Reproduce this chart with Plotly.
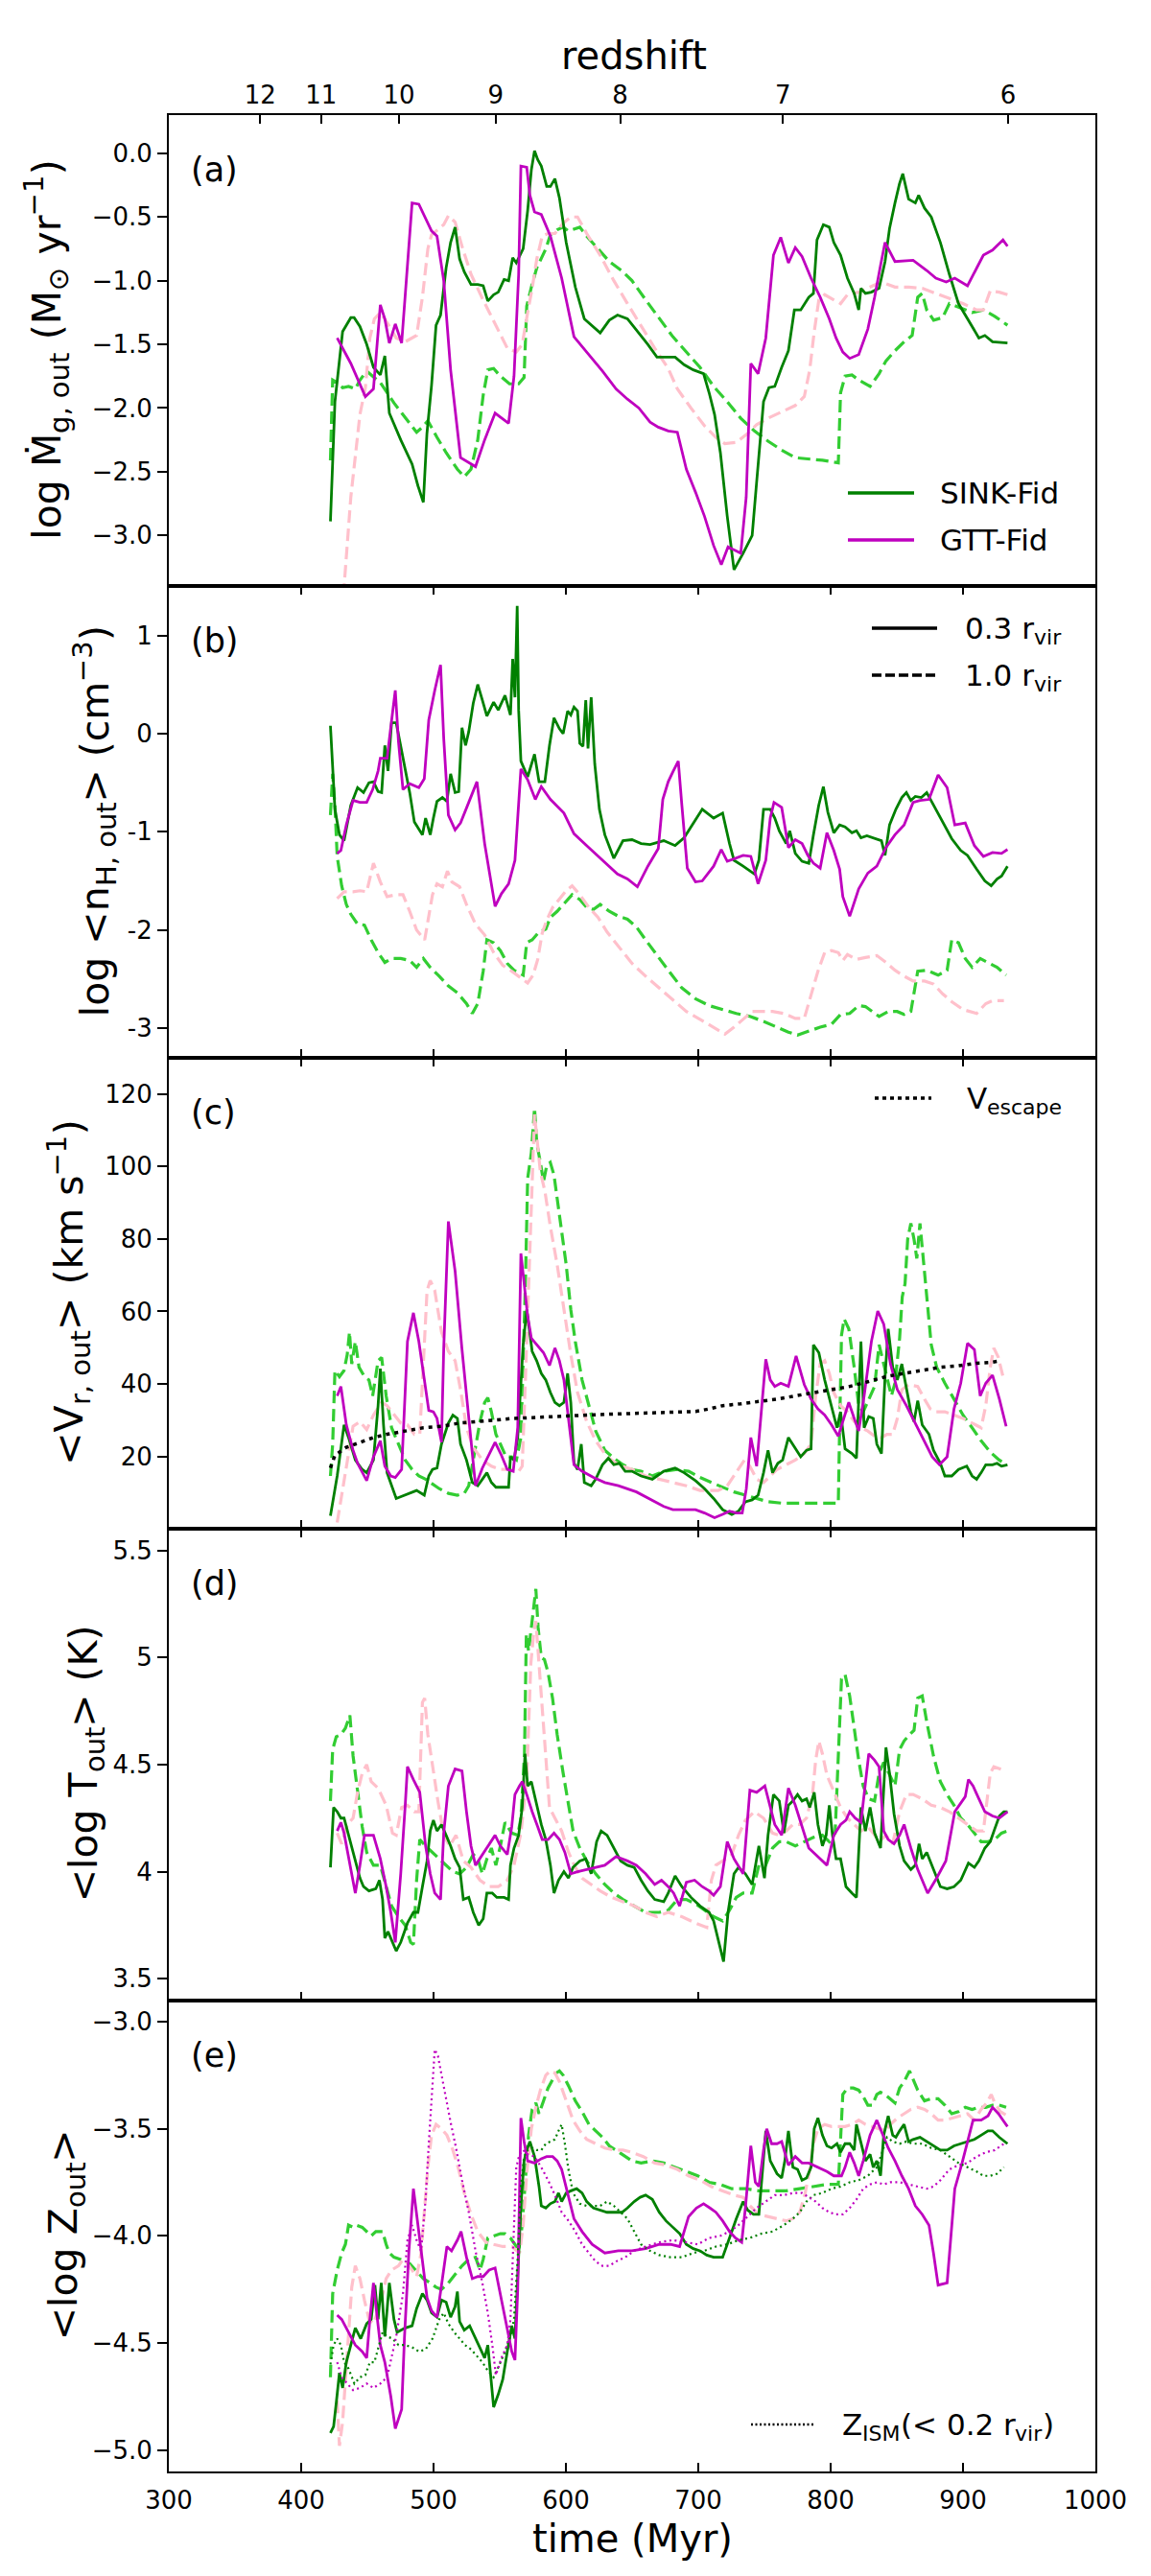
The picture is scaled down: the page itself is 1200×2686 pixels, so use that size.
import plotly.graph_objects as go
from plotly.subplots import make_subplots

# ---- data: (time [Myr], value) pairs ----
# (a) log outflow rate
a_sink = [(422.1,-2.89),(425.5,-1.95),(431.3,-1.40),(437.5,-1.29),(440.0,-1.29),(444.4,-1.36),(449.5,-1.50),(454.6,-1.68),(459.8,-1.74),(463.2,-1.59),(466.6,-2.04),(475.2,-2.25),(483.8,-2.44),(488.2,-2.61),(492.3,-2.74),(495.0,-2.20),(498.5,-1.82),(501.9,-1.35),(505.3,-1.27),(509.5,-0.90),(512.9,-0.70),(516.3,-0.58),(519.7,-0.83),(523.2,-0.93),(528.3,-1.03),(533.4,-1.03),(537.5,-1.04),(541.0,-1.16),(545.4,-1.11),(548.9,-1.09),(553.3,-0.99),(556.7,-1.00),(559.8,-0.82),(562.5,-0.86),(567.7,-0.75),(571.1,-0.45),(573.9,-0.13),(576.3,0.02),(578.7,-0.05),(581.4,-0.10),(585.5,-0.26),(588.3,-0.26),(591.7,-0.20),(595.1,-0.35),(600.2,-0.70),(607.1,-1.05),(613.9,-1.30),(617.4,-1.33),(620.8,-1.36),(625.9,-1.41),(632.8,-1.31),(639.0,-1.27),(646.5,-1.30),(655.1,-1.41),(661.9,-1.50),(668.8,-1.60),(682.5,-1.60),(689.3,-1.66),(696.2,-1.70),(704.0,-1.73),(708.2,-1.88),(712.3,-2.05),(716.7,-2.35),(721.9,-2.85),(727.0,-3.27),(733.9,-3.14),(740.7,-3.00),(744.1,-2.58),(749.3,-1.95),(753.4,-1.84),(757.8,-1.83),(763.0,-1.68),(768.1,-1.55),(772.6,-1.23),(777.4,-1.23),(783.5,-1.13),(787.0,-1.10),(789.7,-0.68),(794.5,-0.56),(799.0,-0.58),(802.4,-0.70),(807.5,-0.80),(812.7,-0.98),(817.8,-1.10),(821.2,-1.23),(822.9,-1.06),(826.3,-1.10),(830.8,-1.09),(836.6,-1.06),(841.1,-0.85),(844.5,-0.59),(848.6,-0.39),(852.0,-0.24),(854.5,-0.16),(858.9,-0.36),(864.0,-0.39),(866.5,-0.33),(870.9,-0.43),(876.0,-0.50),(882.9,-0.70),(889.7,-0.95),(896.6,-1.18),(905.1,-1.33),(912.0,-1.45),(916.5,-1.43),(922.3,-1.48),(933.6,-1.49)]
a_gtt = [(427.2,-1.45),(437.5,-1.65),(448.5,-1.91),(454.6,-1.85),(459.8,-1.19),(463.2,-1.30),(466.6,-1.49),(471.1,-1.34),(475.9,-1.49),(479.6,-1.00),(483.8,-0.39),(488.9,-0.40),(494.0,-0.51),(498.5,-0.61),(502.6,-0.65),(507.7,-1.00),(512.9,-1.70),(520.4,-2.39),(531.7,-2.46),(538.6,-2.25),(546.5,-2.04),(556.7,-2.12),(560.8,-1.75),(564.3,-0.95),(566.0,-0.10),(570.4,-0.11),(572.8,-0.33),(576.3,-0.46),(581.4,-0.48),(588.3,-0.65),(596.8,-0.98),(606.1,-1.44),(615.7,-1.56),(627.6,-1.71),(637.9,-1.85),(646.5,-1.93),(655.1,-2.00),(663.6,-2.11),(669.8,-2.15),(677.3,-2.18),(684.2,-2.19),(691.0,-2.48),(697.9,-2.66),(704.7,-2.85),(711.6,-3.08),(717.4,-3.23),(722.5,-3.09),(732.1,-3.14),(736.2,-2.70),(739.7,-1.65),(745.2,-1.73),(751.0,-1.45),(756.8,-0.80),(762.3,-0.66),(768.1,-0.86),(773.3,-0.74),(778.4,-0.81),(785.2,-0.98),(792.1,-1.13),(799.0,-1.30),(804.1,-1.45),(809.2,-1.56),(814.4,-1.61),(821.2,-1.58),(828.1,-1.38),(833.2,-1.13),(837.7,-0.88),(841.1,-0.70),(848.6,-0.85),(862.3,-0.84),(872.6,-0.92),(879.5,-0.98),(887.3,-1.01),(893.8,-0.98),(903.4,-1.04),(908.6,-0.94),(915.4,-0.80),(922.3,-0.76),(930.2,-0.68),(933.6,-0.73)]
a_sink_out = [(422.1,-2.41),(423.8,-1.78),(427.2,-1.80),(431.3,-1.84),(435.8,-1.83),(440.9,-1.85),(444.4,-1.78),(449.5,-1.71),(452.9,-1.74),(459.8,-1.80),(470.1,-1.96),(480.3,-2.10),(487.2,-2.19),(491.6,-2.15),(495.7,-2.10),(502.6,-2.23),(509.5,-2.35),(518.0,-2.48),(523.2,-2.54),(528.3,-2.48),(533.4,-2.25),(537.5,-1.90),(541.0,-1.70),(545.4,-1.69),(550.5,-1.75),(557.4,-1.81),(564.3,-1.81),(568.4,-1.76),(570.4,-1.20),(573.9,-1.05),(578.0,-0.90),(584.8,-0.75),(588.3,-0.64),(593.4,-0.60),(597.9,-0.58),(602.0,-0.61),(607.1,-0.59),(610.5,-0.58),(615.7,-0.65),(624.2,-0.75),(632.8,-0.85),(643.1,-0.93),(649.9,-1.00),(660.2,-1.15),(670.5,-1.30),(680.8,-1.44),(691.0,-1.56),(701.3,-1.68),(711.6,-1.83),(721.9,-1.95),(732.1,-2.08),(742.4,-2.18),(752.7,-2.26),(763.0,-2.33),(773.3,-2.39),(783.5,-2.40),(793.8,-2.41),(805.8,-2.43),(807.5,-1.88),(810.9,-1.75),(816.1,-1.74),(821.2,-1.78),(829.8,-1.83),(836.6,-1.73),(841.8,-1.63),(848.6,-1.55),(855.5,-1.48),(861.6,-1.43),(865.8,-1.13),(869.2,-1.10),(872.6,-1.23),(877.8,-1.31),(884.6,-1.29),(889.7,-1.18),(896.6,-1.21),(906.9,-1.25),(915.4,-1.23),(924.0,-1.28),(930.9,-1.33),(933.6,-1.35)]
a_gtt_out = [(428.8,-3.90),(437.5,-2.70),(444.4,-2.05),(448.5,-1.84),(451.9,-1.45),(455.3,-1.30),(459.8,-1.25),(465.0,-1.33),(471.8,-1.45),(478.6,-1.48),(487.2,-1.43),(491.6,-1.13),(495.7,-0.75),(498.5,-0.64),(503.3,-0.60),(507.7,-0.56),(511.2,-0.49),(516.3,-0.54),(521.5,-0.73),(528.3,-0.95),(536.9,-1.14),(547.1,-1.35),(555.7,-1.53),(562.5,-1.56),(567.0,-1.50),(571.1,-1.25),(574.5,-1.06),(578.0,-0.83),(582.1,-0.65),(586.5,-0.63),(591.7,-0.63),(597.9,-0.55),(603.7,-0.50),(608.8,-0.50),(615.7,-0.63),(625.9,-0.80),(636.2,-1.00),(646.5,-1.18),(656.8,-1.36),(667.1,-1.53),(677.3,-1.69),(684.2,-1.85),(694.5,-2.00),(704.7,-2.14),(713.3,-2.23),(720.1,-2.28),(728.7,-2.27),(737.3,-2.20),(744.1,-2.13),(752.7,-2.08),(763.0,-2.03),(773.3,-1.98),(780.1,-1.91),(784.2,-1.70),(787.6,-1.40),(791.1,-1.15),(795.5,-1.11),(800.6,-1.14),(807.5,-1.18),(812.7,-1.11),(821.2,-1.09),(829.8,-1.05),(838.4,-1.01),(848.6,-1.05),(858.9,-1.05),(869.2,-1.06),(879.5,-1.10),(889.7,-1.14),(900.0,-1.18),(910.3,-1.23),(915.4,-1.23),(920.6,-1.08),(927.4,-1.09),(933.6,-1.11)]

# (b) log mean outflow density
b_sink = [(422.1,0.08),(423.8,-0.41),(425.5,-0.77),(428.9,-1.03),(432.4,-1.09),(437.5,-0.73),(442.6,-0.55),(447.1,-0.60),(451.2,-0.50),(454.6,-0.49),(458.1,-0.59),(460.8,-0.60),(463.2,-0.12),(465.6,-0.38),(468.3,0.11),(471.8,0.11),(476.9,-0.25),(482.0,-0.60),(485.5,-0.90),(491.6,-1.03),(494.0,-0.86),(497.5,-1.03),(499.9,-0.86),(502.6,-0.69),(506.7,-0.65),(510.1,-0.69),(512.9,-0.41),(516.3,-0.60),(519.0,-0.59),(521.5,0.06),(524.2,-0.12),(526.6,0.02),(530.0,0.31),(533.4,0.50),(536.9,0.34),(540.3,0.18),(545.4,0.32),(548.9,0.24),(554.0,0.39),(558.1,0.19),(559.8,0.76),(561.5,0.37),(563.2,1.30),(564.3,0.24),(566.0,-0.28),(571.1,-0.44),(576.3,-0.21),(579.7,-0.49),(584.1,-0.49),(587.6,-0.12),(591.0,0.16),(595.1,0.05),(597.9,0.00),(601.3,0.23),(603.7,0.19),(606.1,0.27),(608.8,0.23),(610.5,-0.10),(612.9,-0.13),(615.0,0.34),(616.7,-0.15),(619.1,0.37),(621.8,-0.31),(625.3,-0.77),(629.4,-1.03),(636.2,-1.27),(643.1,-1.09),(649.9,-1.08),(656.8,-1.12),(663.6,-1.13),(673.9,-1.09),(682.5,-1.14),(689.3,-1.06),(696.2,-0.91),(703.0,-0.77),(711.6,-0.86),(718.4,-0.81),(723.6,-1.12),(727.0,-1.29),(733.9,-1.35),(742.4,-1.43),(745.8,-1.29),(749.3,-0.77),(754.4,-0.77),(757.8,-0.86),(761.2,-0.99),(766.4,-1.12),(769.1,-0.99),(773.3,-1.22),(778.4,-1.30),(783.5,-1.32),(787.0,-1.03),(791.0,-0.73),(794.5,-0.54),(797.9,-0.80),(802.4,-1.01),(806.8,-0.93),(810.9,-0.95),(816.1,-1.01),(819.5,-0.99),(822.9,-1.06),(827.4,-1.04),(833.2,-1.07),(838.4,-1.09),(841.1,-1.24),(844.5,-0.93),(849.3,-0.77),(853.8,-0.65),(857.2,-0.60),(860.6,-0.68),(864.0,-0.64),(868.5,-0.65),(872.6,-0.60),(877.7,-0.73),(884.6,-0.90),(891.5,-1.07),(898.3,-1.19),(903.4,-1.24),(910.3,-1.38),(916.5,-1.50),(921.3,-1.55),(925.7,-1.48),(929.1,-1.45),(933.6,-1.35)]
b_gtt = [(427.2,-1.22),(430.0,-1.19),(434.1,-0.93),(439.2,-0.68),(444.4,-0.70),(449.5,-0.70),(454.0,-0.57),(458.1,-0.38),(459.8,-0.25),(464.9,-0.25),(469.0,0.21),(471.1,0.44),(473.5,-0.08),(476.9,-0.57),(482.0,-0.51),(488.9,-0.55),(493.0,-0.46),(496.4,0.14),(500.9,0.44),(505.3,0.70),(507.7,-0.05),(511.2,-0.83),(516.3,-0.98),(520.4,-0.91),(526.6,-0.70),(532.8,-0.49),(538.6,-1.12),(546.5,-1.76),(551.3,-1.63),(556.7,-1.53),(561.5,-1.29),(564.3,-0.73),(566.0,-0.36),(571.1,-0.47),(576.9,-0.67),(581.4,-0.54),(588.3,-0.67),(598.5,-0.81),(606.1,-1.02),(615.7,-1.14),(627.6,-1.29),(638.9,-1.43),(646.5,-1.48),(654.0,-1.56),(661.9,-1.35),(669.8,-1.17),(673.2,-0.67),(677.3,-0.49),(680.8,-0.39),(684.9,-0.28),(687.6,-0.73),(691.7,-1.37),(697.9,-1.51),(703.0,-1.50),(711.6,-1.35),(717.4,-1.18),(721.9,-1.30),(728.7,-1.27),(733.9,-1.24),(739.7,-1.25),(745.2,-1.53),(751.0,-1.29),(754.4,-0.86),(757.2,-0.70),(763.0,-0.75),(768.1,-1.16),(773.3,-1.08),(778.4,-1.12),(782.8,-1.24),(787.0,-1.32),(792.1,-1.37),(797.2,-1.01),(802.4,-1.19),(806.8,-1.38),(809.2,-1.66),(814.4,-1.86),(821.2,-1.58),(828.1,-1.42),(834.9,-1.35),(841.8,-1.16),(848.6,-1.03),(855.5,-0.93),(862.3,-0.70),(867.5,-0.68),(874.3,-0.67),(881.2,-0.42),(888.0,-0.55),(893.8,-0.93),(901.7,-0.91),(908.6,-1.14),(915.4,-1.25),(922.3,-1.21),(929.1,-1.22),(933.6,-1.18)]
b_sink_out = [(422.1,-0.83),(423.8,-0.41),(425.5,-0.73),(427.2,-1.25),(430.6,-1.55),(434.1,-1.74),(437.5,-1.84),(442.6,-1.94),(447.8,-1.95),(452.9,-2.10),(458.1,-2.23),(463.2,-2.33),(468.3,-2.29),(475.2,-2.29),(482.0,-2.31),(487.2,-2.38),(492.3,-2.29),(497.5,-2.38),(504.3,-2.47),(511.2,-2.57),(518.0,-2.64),(524.9,-2.75),(529.3,-2.85),(533.4,-2.75),(537.5,-2.42),(540.3,-2.10),(545.4,-2.13),(550.5,-2.21),(555.7,-2.34),(560.8,-2.41),(567.7,-2.46),(570.4,-2.13),(574.5,-2.10),(579.7,-2.02),(584.8,-1.99),(588.3,-1.87),(593.4,-1.81),(598.5,-1.73),(604.7,-1.64),(610.5,-1.69),(615.7,-1.77),(620.8,-1.79),(625.9,-1.74),(632.8,-1.81),(639.6,-1.86),(646.5,-1.89),(653.3,-1.97),(660.2,-2.10),(668.8,-2.26),(677.3,-2.41),(687.6,-2.59),(697.9,-2.70),(708.2,-2.77),(718.4,-2.81),(728.7,-2.85),(739.0,-2.88),(749.3,-2.93),(759.5,-2.99),(768.1,-3.04),(775.0,-3.07),(783.5,-3.03),(792.1,-2.99),(800.7,-2.96),(807.5,-2.86),(814.4,-2.85),(821.2,-2.77),(826.3,-2.78),(831.5,-2.83),(836.6,-2.88),(843.5,-2.83),(850.3,-2.83),(855.5,-2.86),(860.6,-2.83),(865.8,-2.42),(872.6,-2.41),(881.2,-2.46),(888.0,-2.41),(891.5,-2.10),(896.6,-2.13),(901.7,-2.29),(906.9,-2.38),(913.0,-2.29),(918.9,-2.33),(925.7,-2.38),(932.6,-2.46)]
b_gtt_out = [(427.2,-1.68),(432.4,-1.61),(439.2,-1.61),(444.4,-1.60),(449.5,-1.61),(454.6,-1.32),(459.8,-1.51),(464.9,-1.66),(471.8,-1.64),(476.9,-1.64),(482.0,-1.81),(487.2,-2.00),(493.3,-2.10),(495.7,-1.90),(499.2,-1.64),(502.6,-1.53),(506.7,-1.56),(510.5,-1.40),(513.9,-1.51),(519.7,-1.56),(524.9,-1.74),(531.7,-1.94),(538.6,-2.05),(545.4,-2.23),(552.3,-2.36),(559.1,-2.42),(566.0,-2.49),(571.1,-2.54),(575.2,-2.46),(578.7,-2.30),(582.1,-2.03),(585.5,-1.90),(590.0,-1.77),(595.1,-1.69),(600.2,-1.60),(604.7,-1.55),(610.5,-1.64),(617.4,-1.77),(624.2,-1.87),(631.1,-2.02),(639.6,-2.16),(649.9,-2.34),(660.2,-2.47),(670.5,-2.59),(680.8,-2.72),(691.0,-2.83),(701.3,-2.91),(711.6,-2.99),(720.1,-3.06),(727.0,-2.99),(733.9,-2.91),(740.7,-2.83),(747.6,-2.83),(756.1,-2.83),(764.7,-2.85),(773.3,-2.90),(780.1,-2.90),(785.2,-2.65),(790.4,-2.42),(795.5,-2.23),(800.7,-2.21),(805.8,-2.23),(809.2,-2.31),(812.7,-2.25),(819.5,-2.30),(826.3,-2.28),(834.9,-2.26),(841.8,-2.33),(848.6,-2.41),(855.5,-2.47),(862.3,-2.52),(870.9,-2.52),(877.7,-2.55),(884.6,-2.65),(891.5,-2.73),(900.0,-2.81),(910.3,-2.85),(917.2,-2.75),(922.3,-2.72),(930.9,-2.72)]

# (c) mean radial outflow velocity [km/s]
c_sink = [(422.1,3.6),(427.2,14.6),(432.4,28.7),(435.8,25.2),(440.9,19.0),(446.1,16.4),(449.5,15.5),(454.6,19.0),(458.1,34.0),(459.8,44.2),(462.2,28.7),(464.9,15.5),(471.8,8.4),(478.6,9.3),(487.2,10.6),(493.0,9.3),(496.4,14.6),(499.2,16.4),(502.6,16.8),(506.0,23.4),(511.2,29.2),(514.6,31.4),(518.0,30.5),(520.4,23.4),(524.9,19.0),(529.3,12.8),(533.4,11.9),(536.9,13.7),(540.3,15.5),(543.7,12.8),(547.1,11.5),(552.3,11.5),(556.7,11.5),(558.1,19.9),(560.8,19.0),(563.6,25.2),(566.0,41.1),(567.7,50.8),(570.4,60.5),(572.8,54.3),(574.5,49.0),(577.9,46.4),(581.4,42.9),(584.8,41.1),(588.3,37.6),(591.7,34.9),(595.1,34.0),(598.5,34.9),(601.3,42.9),(603.7,34.9),(606.1,18.1),(608.8,16.4),(611.6,23.4),(613.9,12.8),(619.1,11.9),(622.5,13.7),(627.6,17.7),(632.1,19.5),(636.2,17.7),(640.3,18.1),(644.8,15.9),(649.9,15.9),(656.8,14.6),(665.3,13.7),(673.9,15.9),(682.5,16.8),(689.3,15.5),(697.9,13.3),(704.7,11.1),(711.6,8.4),(718.4,5.3),(725.3,4.0),(730.4,4.9),(735.6,7.5),(740.7,8.0),(745.2,9.3),(749.3,15.5),(752.7,21.7),(756.1,15.5),(760.1,18.1),(763.7,19.0),(768.1,25.2),(773.3,22.1),(777.4,19.9),(781.8,21.7),(785.2,22.1),(787.0,50.8),(791.1,48.6),(795.5,41.1),(800.7,34.0),(804.8,27.9),(807.5,32.3),(810.9,22.1),(816.1,20.8),(819.5,19.5),(822.9,51.7),(825.3,27.9),(828.8,31.0),(832.2,30.5),(834.9,23.4),(838.4,20.8),(841.1,42.0),(843.5,55.2),(846.9,44.6),(850.4,41.1),(853.8,45.5),(857.2,39.3),(860.6,32.3),(863.0,29.6),(865.8,35.4),(869.2,28.7),(874.3,26.1),(877.7,21.7),(882.9,18.1),(886.3,14.6),(891.5,14.6),(896.6,16.4),(902.8,17.3),(906.9,14.6),(910.3,13.7),(913.7,15.5),(917.2,17.7),(922.3,17.7),(925.7,18.1),(929.1,17.3),(933.6,17.7)]
c_gtt = [(427.2,36.7),(430.0,39.3),(434.1,28.7),(439.2,21.7),(442.6,18.1),(449.5,13.3),(454.6,19.9),(459.8,24.3),(463.2,17.3),(467.7,14.6),(471.1,14.2),(475.9,16.4),(480.3,51.7),(484.8,59.6),(488.9,51.7),(493.0,41.1),(496.4,32.7),(499.9,32.3),(502.6,30.5),(506.0,23.9),(507.7,49.9),(511.2,84.8),(516.3,71.1),(521.4,49.9),(526.6,30.5),(531.7,11.9),(536.9,16.8),(542.0,20.8),(546.5,23.9),(551.3,20.3),(555.7,16.4),(560.2,15.9),(563.6,27.9),(566.0,76.0),(568.4,67.6),(571.1,58.7),(573.9,52.6),(577.9,50.8),(583.1,48.6),(587.6,45.1),(591.7,49.9),(595.1,46.4),(598.5,41.1),(601.9,30.5),(606.1,17.7),(612.2,15.9),(620.8,14.2),(629.4,12.8),(639.6,11.9),(653.3,10.2),(665.3,8.0),(673.9,6.2),(680.8,5.3),(689.3,5.3),(697.9,5.3),(704.7,4.4),(712.3,3.1),(718.4,4.0),(723.6,4.9),(728.7,4.4),(733.2,4.4),(736.3,11.1),(739.7,25.2),(744.1,17.3),(747.6,32.3),(751.0,46.8),(754.4,41.1),(757.8,39.3),(762.3,40.2),(768.1,39.3),(773.9,47.7),(780.1,39.8),(785.2,35.8),(790.4,33.1),(795.5,31.4),(800.7,28.7),(805.8,25.6),(809.2,29.6),(813.7,34.9),(817.8,30.5),(821.2,27.0),(825.3,36.7),(830.8,51.7),(835.6,60.1),(840.1,56.5),(845.2,45.5),(850.4,38.4),(857.2,34.0),(864.0,29.2),(870.9,23.9),(876.7,19.9),(882.2,17.7),(888.0,19.9),(893.2,33.1),(898.3,40.2),(903.4,51.2),(908.6,49.5),(913.0,36.7),(917.2,40.2),(922.3,42.4),(927.5,35.8),(932.6,28.3)]
c_sink_out = [(422.1,14.6),(423.8,23.4),(425.5,43.7),(428.9,42.0),(432.4,43.7),(434.8,48.1),(436.5,54.3),(438.2,45.5),(440.9,51.7),(443.7,44.6),(447.8,42.0),(451.2,41.1),(454.0,36.7),(458.1,46.4),(460.8,47.3),(464.2,36.7),(468.3,27.9),(473.5,23.4),(478.6,19.0),(483.8,16.4),(488.9,14.6),(494.0,13.7),(499.2,12.4),(504.3,11.1),(511.2,9.8),(518.0,9.3),(523.2,9.8),(526.6,11.9),(530.0,19.0),(535.1,29.6),(538.6,34.9),(541.0,36.2),(543.7,32.3),(547.1,26.1),(550.5,23.4),(554.7,19.9),(559.1,19.9),(562.6,19.0),(566.0,25.2),(567.7,45.5),(569.4,67.6),(571.1,96.7),(573.9,103.8),(576.3,116.1),(578.0,106.4),(580.7,101.1),(583.1,95.8),(585.5,100.2),(588.2,101.1),(591.0,97.6),(593.4,91.4),(596.8,82.6),(600.2,72.9),(603.7,60.5),(607.1,51.7),(612.2,41.1),(617.4,34.0),(622.5,27.0),(629.4,21.7),(636.2,19.5),(643.1,17.7),(649.9,16.4),(656.8,15.9),(665.3,14.6),(673.9,15.9),(684.2,16.4),(692.7,15.9),(701.3,14.2),(709.9,12.8),(718.4,11.5),(727.0,10.2),(735.6,9.3),(744.1,8.4),(752.7,7.5),(763.0,7.1),(773.3,7.1),(783.5,7.1),(793.8,7.1),(805.8,7.1),(806.8,27.9),(808.2,53.4),(810.2,57.9),(813.7,55.2),(817.8,44.6),(821.2,34.0),(824.6,32.3),(828.8,35.8),(833.2,39.3),(836.6,50.8),(840.1,45.5),(842.5,41.1),(845.9,36.7),(848.6,40.2),(852.1,52.6),(854.1,64.0),(856.2,67.6),(858.2,79.9),(860.6,84.3),(863.0,79.9),(865.1,74.6),(867.5,84.3),(869.9,74.6),(872.6,62.3),(876.0,50.8),(880.1,44.6),(886.3,40.2),(893.2,35.8),(900.0,31.4),(906.9,27.9),(913.7,24.3),(920.6,21.2),(927.4,19.0),(932.6,17.7)]
c_gtt_out = [(427.2,1.8),(430.6,9.3),(434.8,19.0),(439.2,28.3),(444.4,29.6),(449.5,27.4),(454.6,31.4),(460.8,34.9),(464.9,34.0),(470.1,31.4),(475.2,29.2),(480.3,28.7),(485.5,26.1),(489.6,26.1),(492.3,43.7),(495.1,65.8),(497.5,68.5),(500.9,65.8),(506.0,54.3),(511.2,49.0),(516.3,46.4),(520.4,38.4),(524.9,27.9),(530.0,22.5),(536.9,19.0),(543.7,17.3),(550.5,16.4),(557.4,16.4),(564.3,15.9),(567.0,17.3),(569.4,41.1),(571.8,67.6),(574.5,98.5),(576.3,114.3),(578.0,108.2),(580.7,98.5),(584.1,93.2),(588.2,83.5),(593.4,72.9),(598.5,60.5),(603.7,48.1),(608.8,37.6),(615.7,29.6),(622.5,24.3),(631.1,19.9),(639.6,17.7),(649.9,16.4),(660.2,14.6),(670.5,13.7),(680.8,12.8),(691.0,11.9),(701.3,10.6),(708.2,10.6),(715.0,10.6),(721.9,11.9),(728.7,15.5),(734.9,19.0),(739.0,17.3),(744.1,13.7),(749.3,12.8),(754.4,14.6),(759.5,16.4),(766.4,17.7),(773.3,19.0),(780.1,20.8),(785.2,23.4),(788.7,36.7),(792.1,45.5),(795.5,46.4),(799.0,42.9),(802.4,37.6),(807.5,34.0),(812.7,32.3),(817.8,29.6),(822.9,27.9),(828.1,27.0),(833.2,25.6),(838.4,25.2),(842.5,26.1),(846.9,26.1),(850.4,30.5),(853.8,38.4),(858.9,39.8),(865.8,39.3),(870.9,35.8),(875.3,33.1),(879.5,32.3),(886.3,32.3),(893.2,31.4),(900.0,30.5),(906.9,29.2),(913.7,27.9),(917.2,34.0),(920.6,44.6),(923.3,49.9),(926.7,47.3),(930.2,42.0),(932.6,41.1)]
c_vesc = [(422.1,16.8),(425.5,20.3),(434.1,22.5),(444.4,23.9),(454.6,25.2),(464.9,26.1),(478.6,27.0),(492.3,27.9),(506.0,28.3),(519.7,29.2),(533.4,29.6),(547.1,30.1),(560.8,30.5),(574.5,30.7),(588.2,31.0),(601.9,31.2),(615.7,31.4),(629.4,31.6),(643.1,31.8),(656.8,32.0),(670.5,32.1),(684.2,32.3),(697.9,32.4),(708.2,33.1),(718.4,34.0),(732.1,34.5),(745.8,35.1),(759.5,35.8),(773.3,36.7),(786.9,37.6),(800.7,38.4),(814.4,39.3),(828.1,40.6),(841.8,42.0),(855.5,42.9),(869.2,43.7),(882.9,44.6),(896.6,45.0),(910.3,45.7),(920.6,45.9),(929.1,46.4)]

# (d) mean log outflow temperature
d_sink = [(422.1,4.02),(424.5,4.30),(427.2,4.28),(430.0,4.25),(432.4,4.25),(434.1,4.21),(437.5,4.12),(441.6,4.03),(444.4,3.97),(447.1,3.93),(451.2,3.91),(456.4,3.92),(459.1,3.96),(461.5,3.87),(463.2,3.69),(465.6,3.72),(468.3,3.68),(471.8,3.63),(475.2,3.67),(480.3,3.76),(484.8,3.81),(488.2,3.81),(491.6,3.93),(495.1,4.05),(497.5,4.19),(499.9,4.24),(502.6,4.19),(506.0,4.22),(509.5,4.17),(512.9,4.12),(516.3,4.06),(519.7,4.02),(522.5,3.87),(526.6,3.88),(530.0,3.81),(534.1,3.75),(537.5,3.78),(540.3,3.90),(544.4,3.90),(547.8,3.88),(553.3,3.88),(556.7,3.87),(558.1,4.03),(560.8,4.11),(564.3,4.17),(567.0,4.30),(569.1,4.55),(571.1,4.40),(573.9,4.42),(577.3,4.33),(581.4,4.22),(584.8,4.15),(588.3,4.03),(591.0,3.90),(594.4,3.96),(598.5,4.00),(601.9,3.97),(605.4,4.02),(610.5,4.05),(615.0,4.06),(619.1,3.99),(623.2,4.14),(626.6,4.19),(631.1,4.17),(636.2,4.11),(641.4,4.05),(646.5,4.03),(651.6,4.02),(656.8,3.96),(661.9,3.91),(667.1,3.87),(673.9,3.86),(677.3,3.90),(682.5,3.98),(687.6,3.93),(694.5,3.88),(701.3,3.84),(708.2,3.81),(711.6,3.77),(715.7,3.66),(719.1,3.58),(722.5,3.81),(727.0,3.99),(730.4,4.02),(735.6,3.99),(740.7,3.94),(745.8,4.12),(750.0,3.97),(752.7,4.17),(756.8,4.36),(761.2,4.33),(764.7,4.18),(768.1,4.31),(771.5,4.33),(775.0,4.36),(778.4,4.33),(781.8,4.34),(784.2,4.30),(787.6,4.37),(790.4,4.22),(793.8,4.12),(796.6,4.17),(799.0,4.31),(801.4,4.17),(804.1,4.06),(807.5,4.06),(811.6,3.93),(816.1,3.90),(819.5,3.88),(822.9,4.30),(826.3,4.19),(829.8,4.30),(833.2,4.18),(837.7,4.11),(840.1,4.36),(841.8,4.58),(844.5,4.46),(847.9,4.27),(852.1,4.12),(855.5,4.05),(860.6,4.01),(864.0,4.03),(866.8,4.13),(869.2,4.06),(872.6,4.09),(875.3,4.05),(878.8,3.99),(882.9,3.93),(888.0,3.92),(893.2,3.93),(898.3,3.96),(904.1,4.04),(908.6,4.02),(912.0,4.05),(916.5,4.11),(920.6,4.14),(924.0,4.20),(927.5,4.26),(930.9,4.28),(933.6,4.28)]
d_gtt = [(427.2,4.19),(430.0,4.23),(432.4,4.18),(437.5,4.02),(440.9,3.90),(444.4,4.03),(447.8,4.17),(454.6,4.17),(459.8,4.06),(464.2,3.93),(467.7,3.81),(471.1,3.67),(475.2,3.99),(478.6,4.31),(480.3,4.49),(484.8,4.43),(489.6,4.37),(494.0,4.12),(497.5,3.99),(500.9,3.90),(505.3,3.87),(507.7,4.18),(511.2,4.40),(516.3,4.48),(521.5,4.47),(524.9,4.28),(528.3,4.12),(531.7,4.03),(536.9,4.08),(542.0,4.13),(546.5,4.17),(550.5,4.12),(555.7,4.08),(559.1,4.21),(561.5,4.36),(564.9,4.40),(567.0,4.42),(570.4,4.36),(574.5,4.28),(578.7,4.21),(582.1,4.15),(586.5,4.15),(591.0,4.18),(595.1,4.15),(599.2,4.09),(603.7,3.99),(608.8,4.00),(615.7,4.01),(622.5,4.02),(629.4,4.03),(637.9,4.07),(646.5,4.05),(653.3,4.03),(660.2,3.99),(667.1,3.94),(672.2,3.96),(677.3,3.93),(681.4,3.90),(685.9,3.84),(691.0,3.95),(697.2,3.96),(703.0,3.93),(708.2,3.91),(711.6,3.89),(716.7,3.93),(721.9,4.14),(727.0,4.06),(733.9,3.99),(739.0,4.38),(744.1,4.37),(750.3,4.40),(754.4,4.30),(757.8,4.22),(763.0,4.17),(768.1,4.39),(773.3,4.31),(778.4,4.21),(783.5,4.11),(788.7,4.08),(797.2,4.03),(802.4,4.17),(807.5,4.22),(811.6,4.24),(814.4,4.28),(818.5,4.25),(822.9,4.23),(828.8,4.55),(833.2,4.52),(836.6,4.49),(840.1,4.19),(843.5,4.15),(847.9,4.13),(852.1,4.17),(855.5,4.22),(860.6,4.11),(865.8,4.01),(873.3,3.90),(880.1,3.97),(887.0,4.05),(893.8,4.28),(898.3,4.32),(901.7,4.35),(904.1,4.43),(907.6,4.40),(912.0,4.34),(916.5,4.28),(922.3,4.26),(927.4,4.25),(933.6,4.28)]
d_sink_out = [(422.1,4.33),(423.8,4.57),(426.5,4.63),(430.0,4.64),(433.4,4.67),(436.8,4.73),(439.2,4.54),(442.6,4.37),(446.1,4.21),(449.5,4.09),(454.6,4.03),(459.8,4.03),(464.2,3.93),(468.3,3.84),(473.5,3.79),(478.6,3.75),(482.7,3.67),(484.8,3.66),(487.2,3.96),(489.6,4.15),(494.0,4.12),(499.2,4.09),(504.3,4.06),(509.5,4.03),(514.6,4.00),(519.7,3.99),(524.9,4.02),(530.0,4.08),(533.4,4.06),(536.9,3.99),(540.3,4.06),(543.7,4.11),(547.1,4.03),(550.5,4.12),(554.0,4.23),(559.1,4.18),(563.6,4.17),(566.0,4.25),(568.7,4.55),(570.1,5.11),(571.8,5.03),(573.9,5.14),(575.6,5.24),(577.3,5.32),(579.0,5.14),(581.4,5.00),(583.8,4.99),(586.5,4.93),(589.9,4.81),(593.4,4.64),(597.9,4.46),(602.0,4.31),(605.4,4.19),(610.5,4.11),(615.7,4.05),(622.5,3.99),(629.4,3.94),(636.2,3.90),(643.1,3.87),(651.6,3.84),(660.2,3.81),(670.5,3.81),(677.3,3.82),(684.2,3.87),(691.0,3.87),(697.9,3.85),(704.7,3.82),(711.6,3.79),(718.4,3.77),(723.6,3.82),(728.7,3.88),(733.9,3.90),(740.7,3.90),(745.8,4.03),(750.9,4.03),(756.1,4.11),(761.2,4.14),(766.4,4.14),(773.3,4.12),(780.1,4.14),(787.0,4.16),(793.8,4.17),(799.0,4.14),(803.4,4.18),(805.8,4.55),(808.2,4.90),(810.9,4.92),(814.4,4.82),(817.8,4.67),(821.2,4.52),(824.6,4.40),(828.8,4.34),(833.2,4.33),(836.6,4.46),(840.1,4.51),(844.5,4.45),(848.6,4.40),(852.1,4.57),(855.5,4.61),(859.6,4.64),(863.0,4.66),(865.8,4.81),(869.2,4.82),(872.6,4.70),(877.7,4.54),(882.9,4.42),(888.0,4.36),(893.2,4.31),(898.3,4.25),(903.4,4.22),(908.6,4.18),(913.7,4.14),(918.9,4.14),(924.0,4.15),(929.1,4.18),(933.6,4.19)]
d_gtt_out = [(427.2,4.18),(430.6,4.13),(434.8,4.22),(439.2,4.25),(442.6,4.37),(446.1,4.46),(449.5,4.50),(452.9,4.42),(458.1,4.39),(464.2,4.31),(469.0,4.18),(471.8,4.17),(475.9,4.30),(480.3,4.31),(485.5,4.28),(488.9,4.28),(491.6,4.79),(493.3,4.81),(495.7,4.64),(499.9,4.46),(503.3,4.33),(507.7,4.17),(512.2,4.12),(517.0,4.17),(522.5,4.05),(528.3,4.02),(535.1,3.96),(542.0,3.93),(548.9,3.93),(555.7,3.96),(560.8,4.03),(566.0,4.18),(570.4,4.43),(573.5,4.97),(575.6,5.11),(577.3,5.17),(579.7,4.97),(582.4,4.76),(584.8,4.55),(587.6,4.30),(591.7,4.25),(596.8,4.19),(602.0,4.09),(607.1,4.02),(612.2,3.97),(619.1,3.94),(625.9,3.91),(634.5,3.88),(643.1,3.86),(651.6,3.84),(660.2,3.81),(668.8,3.79),(677.3,3.81),(687.6,3.79),(697.9,3.76),(706.4,3.74),(709.9,3.96),(713.3,4.03),(718.4,4.05),(725.3,4.08),(730.4,4.17),(735.6,4.24),(742.4,4.28),(749.3,4.25),(756.1,4.18),(761.2,4.17),(766.4,4.19),(771.5,4.22),(776.7,4.22),(781.8,4.25),(786.3,4.36),(788.7,4.52),(791.1,4.61),(793.8,4.55),(797.2,4.45),(802.4,4.37),(807.5,4.30),(812.7,4.25),(817.8,4.22),(822.9,4.19),(828.1,4.21),(832.2,4.18),(836.6,4.14),(841.8,4.17),(846.9,4.13),(852.1,4.28),(857.2,4.36),(862.3,4.36),(869.2,4.34),(876.0,4.31),(882.9,4.30),(889.7,4.28),(896.6,4.25),(903.4,4.22),(910.3,4.19),(915.4,4.19),(917.8,4.33),(920.6,4.46),(923.3,4.49),(927.4,4.48),(932.6,4.47)]

# (e) mean log outflow metallicity, plus ISM metallicity (< 0.2 r_vir)
e_sink = [(422.1,-4.92),(424.5,-4.89),(426.5,-4.78),(428.9,-4.64),(431.3,-4.71),(434.1,-4.59),(437.5,-4.51),(440.9,-4.43),(445.0,-4.48),(449.5,-4.41),(452.9,-4.39),(455.7,-4.23),(458.1,-4.39),(460.5,-4.22),(463.2,-4.47),(466.6,-4.22),(470.1,-4.39),(472.5,-4.45),(478.6,-4.43),(483.8,-4.42),(487.2,-4.34),(491.6,-4.27),(495.1,-4.30),(498.5,-4.36),(502.6,-4.38),(506.0,-4.30),(509.5,-4.31),(512.9,-4.38),(516.3,-4.33),(518.0,-4.26),(519.7,-4.40),(523.2,-4.44),(527.3,-4.42),(531.7,-4.48),(535.1,-4.53),(538.6,-4.57),(541.0,-4.51),(543.7,-4.69),(545.4,-4.80),(548.9,-4.74),(552.3,-4.67),(555.7,-4.54),(559.1,-4.42),(561.5,-4.48),(563.6,-4.22),(566.0,-3.86),(568.4,-3.65),(570.4,-3.60),(572.8,-3.56),(576.3,-3.63),(579.7,-3.77),(581.4,-3.86),(584.8,-3.87),(588.2,-3.85),(591.7,-3.84),(594.4,-3.80),(596.8,-3.84),(600.2,-3.80),(603.7,-3.79),(608.1,-3.78),(612.2,-3.80),(615.7,-3.84),(620.8,-3.87),(625.9,-3.88),(631.1,-3.89),(636.2,-3.89),(642.4,-3.89),(646.5,-3.87),(651.6,-3.84),(656.1,-3.82),(660.2,-3.81),(665.3,-3.83),(670.5,-3.89),(675.6,-3.93),(680.8,-3.96),(686.0,-3.99),(691.0,-4.04),(696.2,-4.06),(701.3,-4.07),(706.4,-4.09),(711.6,-4.10),(718.4,-4.10),(723.6,-4.01),(728.7,-3.92),(733.9,-3.84),(737.3,-3.88),(741.7,-3.90),(745.8,-3.90),(748.6,-3.69),(751.0,-3.51),(754.4,-3.65),(757.2,-3.68),(759.5,-3.71),(763.0,-3.73),(765.4,-3.65),(768.1,-3.51),(771.5,-3.68),(775.0,-3.69),(778.4,-3.74),(781.8,-3.73),(785.2,-3.68),(787.6,-3.50),(790.4,-3.45),(793.8,-3.53),(797.2,-3.58),(800.7,-3.59),(804.8,-3.57),(807.5,-3.61),(810.9,-3.57),(814.4,-3.57),(817.8,-3.60),(819.5,-3.48),(822.9,-3.56),(826.3,-3.65),(829.8,-3.62),(832.2,-3.68),(834.9,-3.65),(837.7,-3.72),(840.1,-3.53),(843.5,-3.44),(846.9,-3.53),(849.3,-3.54),(852.1,-3.51),(855.5,-3.48),(858.9,-3.56),(862.3,-3.55),(867.5,-3.54),(872.6,-3.56),(877.7,-3.58),(882.9,-3.60),(888.0,-3.60),(893.2,-3.58),(898.3,-3.57),(903.4,-3.56),(908.6,-3.55),(913.7,-3.53),(918.9,-3.51),(922.3,-3.51),(927.4,-3.54),(933.6,-3.57)]
e_gtt = [(427.2,-4.37),(430.6,-4.39),(435.8,-4.45),(440.9,-4.51),(446.1,-4.54),(449.5,-4.57),(451.9,-4.39),(454.6,-4.22),(457.4,-4.38),(459.8,-4.51),(463.2,-4.59),(467.7,-4.75),(471.1,-4.90),(475.9,-4.81),(478.0,-4.48),(481.4,-4.07),(484.8,-3.78),(488.2,-3.95),(491.6,-4.13),(495.1,-4.29),(498.5,-4.35),(502.6,-4.38),(506.7,-4.20),(510.1,-4.05),(513.6,-4.07),(518.0,-4.02),(520.8,-3.98),(524.9,-4.10),(529.3,-4.20),(533.4,-4.19),(537.5,-4.19),(542.0,-4.16),(546.5,-4.15),(550.5,-4.27),(555.7,-4.44),(559.1,-4.54),(561.5,-4.58),(563.6,-4.25),(566.0,-3.45),(568.4,-3.56),(571.1,-3.65),(576.3,-3.66),(581.4,-3.64),(585.5,-3.63),(590.0,-3.63),(593.4,-3.65),(596.8,-3.69),(601.3,-3.80),(606.1,-3.92),(612.2,-3.98),(619.8,-4.04),(629.4,-4.08),(639.6,-4.07),(649.9,-4.07),(660.2,-4.06),(670.5,-4.04),(679.0,-4.04),(685.9,-4.05),(689.3,-3.98),(692.7,-3.91),(698.6,-3.87),(704.0,-3.85),(708.8,-3.87),(713.3,-3.89),(718.4,-3.93),(723.6,-3.98),(728.0,-4.01),(732.8,-4.03),(735.6,-3.87),(739.7,-3.58),(743.1,-3.75),(745.8,-3.77),(749.3,-3.60),(751.7,-3.50),(755.4,-3.57),(759.5,-3.57),(763.0,-3.56),(768.1,-3.67),(773.3,-3.63),(778.4,-3.66),(783.5,-3.66),(790.4,-3.68),(797.2,-3.70),(802.4,-3.72),(808.2,-3.72),(810.9,-3.68),(814.4,-3.61),(817.8,-3.66),(821.2,-3.72),(824.6,-3.65),(829.8,-3.53),(834.9,-3.46),(838.4,-3.51),(843.5,-3.59),(848.6,-3.65),(853.8,-3.72),(858.9,-3.78),(864.0,-3.86),(869.2,-3.90),(874.3,-3.95),(877.7,-4.08),(881.2,-4.23),(888.0,-4.22),(893.8,-3.78),(899.3,-3.66),(903.4,-3.56),(907.6,-3.46),(913.7,-3.46),(918.9,-3.44),(922.3,-3.40),(926.8,-3.43),(930.2,-3.46),(933.6,-3.49)]
e_sink_out = [(422.1,-4.66),(423.8,-4.27),(427.2,-4.16),(430.6,-4.08),(433.4,-4.04),(435.8,-3.95),(439.2,-3.96),(441.6,-3.95),(446.1,-3.96),(449.5,-3.98),(452.9,-4.00),(456.4,-3.98),(461.5,-3.98),(464.2,-4.04),(466.6,-4.08),(470.1,-4.10),(475.2,-4.11),(482.0,-4.13),(488.2,-4.17),(492.3,-4.20),(497.5,-4.22),(501.9,-4.24),(506.0,-4.25),(511.2,-4.22),(516.3,-4.18),(521.5,-4.14),(526.6,-4.11),(531.7,-4.10),(535.1,-4.16),(537.5,-4.11),(541.0,-4.01),(545.4,-4.00),(550.5,-3.99),(554.0,-3.99),(558.1,-4.01),(561.5,-4.04),(564.3,-4.07),(567.0,-3.95),(569.4,-3.72),(571.8,-3.53),(574.5,-3.41),(577.3,-3.38),(579.7,-3.43),(583.1,-3.37),(586.5,-3.31),(590.0,-3.27),(592.7,-3.24),(595.1,-3.23),(597.9,-3.25),(602.0,-3.30),(607.1,-3.37),(612.2,-3.42),(617.4,-3.48),(622.5,-3.51),(627.6,-3.54),(632.8,-3.58),(637.9,-3.60),(643.1,-3.62),(649.9,-3.65),(656.8,-3.66),(665.3,-3.65),(673.9,-3.66),(682.5,-3.68),(691.0,-3.70),(699.6,-3.72),(708.2,-3.75),(716.7,-3.76),(725.3,-3.78),(735.6,-3.78),(745.8,-3.79),(756.1,-3.79),(766.4,-3.79),(776.7,-3.78),(787.0,-3.77),(797.2,-3.76),(805.8,-3.76),(807.5,-3.54),(809.2,-3.34),(812.7,-3.31),(817.1,-3.31),(821.2,-3.32),(824.6,-3.35),(828.1,-3.39),(831.5,-3.39),(834.9,-3.34),(837.6,-3.33),(841.1,-3.34),(844.5,-3.36),(848.6,-3.38),(852.1,-3.31),(855.5,-3.28),(859.6,-3.23),(863.0,-3.28),(865.8,-3.32),(870.9,-3.37),(876.0,-3.36),(881.2,-3.36),(886.3,-3.39),(891.5,-3.43),(896.6,-3.42),(901.7,-3.40),(906.9,-3.41),(912.0,-3.40),(917.2,-3.40),(922.3,-3.39),(927.4,-3.39),(932.6,-3.40)]
e_gtt_out = [(427.2,-4.77),(428.9,-4.98),(431.3,-4.87),(434.8,-4.54),(438.2,-4.24),(440.9,-4.14),(444.4,-4.20),(447.8,-4.30),(451.2,-4.39),(454.6,-4.41),(459.8,-4.32),(464.2,-4.20),(468.3,-4.16),(473.5,-4.14),(476.9,-4.11),(480.3,-4.13),(483.8,-4.16),(487.2,-4.19),(490.6,-4.08),(493.0,-3.87),(495.7,-3.68),(498.5,-3.53),(501.9,-3.48),(506.0,-3.50),(510.1,-3.53),(514.6,-3.60),(519.0,-3.69),(523.2,-3.80),(528.3,-3.90),(533.4,-3.98),(539.6,-4.03),(545.4,-4.04),(552.3,-4.05),(559.1,-4.05),(565.0,-4.08),(567.7,-3.95),(570.4,-3.71),(573.9,-3.50),(577.3,-3.40),(580.7,-3.32),(584.8,-3.25),(588.2,-3.23),(591.7,-3.24),(595.1,-3.28),(600.2,-3.37),(605.4,-3.46),(610.5,-3.51),(615.7,-3.55),(622.5,-3.57),(629.4,-3.59),(636.2,-3.60),(643.1,-3.60),(649.9,-3.61),(658.5,-3.63),(667.1,-3.66),(675.6,-3.67),(684.2,-3.69),(692.7,-3.72),(701.3,-3.74),(709.9,-3.77),(718.4,-3.79),(727.0,-3.81),(733.9,-3.82),(739.0,-3.86),(745.8,-3.90),(752.7,-3.91),(759.5,-3.92),(766.4,-3.93),(771.5,-3.92),(776.7,-3.89),(780.8,-3.80),(784.2,-3.69),(787.0,-3.57),(790.4,-3.50),(795.5,-3.48),(800.7,-3.49),(805.8,-3.49),(810.9,-3.49),(816.1,-3.48),(821.2,-3.46),(826.3,-3.48),(831.5,-3.49),(836.6,-3.50),(841.1,-3.51),(845.2,-3.48),(850.4,-3.45),(855.5,-3.43),(860.6,-3.41),(865.8,-3.40),(870.9,-3.41),(876.0,-3.43),(881.2,-3.46),(886.3,-3.46),(891.5,-3.45),(896.6,-3.44),(903.4,-3.43),(908.6,-3.46),(913.7,-3.41),(917.9,-3.38),(921.3,-3.34),(924.0,-3.38),(928.1,-3.42),(933.6,-3.44)]
e_sink_ism = [(422.1,-4.60),(424.5,-4.51),(427.2,-4.48),(430.0,-4.51),(432.4,-4.59),(435.8,-4.62),(440.2,-4.69),(444.4,-4.66),(448.5,-4.65),(451.9,-4.59),(455.3,-4.59),(458.7,-4.51),(461.5,-4.45),(464.9,-4.47),(469.0,-4.48),(473.5,-4.51),(478.6,-4.51),(483.8,-4.52),(488.9,-4.54),(494.0,-4.53),(499.2,-4.48),(504.3,-4.39),(507.7,-4.36),(511.2,-4.41),(515.6,-4.45),(519.7,-4.48),(523.8,-4.51),(528.3,-4.53),(532.8,-4.56),(536.9,-4.59),(541.0,-4.63),(545.4,-4.66),(549.9,-4.60),(554.0,-4.54),(558.1,-4.47),(560.8,-4.39),(563.6,-4.10),(566.0,-3.77),(568.4,-3.63),(571.1,-3.60),(574.5,-3.59),(578.0,-3.60),(581.4,-3.60),(584.8,-3.57),(588.2,-3.56),(591.7,-3.55),(594.4,-3.51),(596.8,-3.48),(599.2,-3.57),(601.9,-3.69),(605.4,-3.80),(610.5,-3.85),(615.7,-3.86),(620.8,-3.86),(625.9,-3.86),(631.1,-3.84),(636.2,-3.86),(641.4,-3.89),(646.5,-3.92),(651.6,-3.98),(656.8,-4.04),(663.6,-4.07),(670.5,-4.09),(679.0,-4.10),(687.6,-4.10),(696.2,-4.08),(704.7,-4.07),(713.3,-4.05),(721.9,-4.04),(730.4,-4.02),(739.0,-4.01),(747.6,-3.99),(756.1,-3.98),(764.7,-3.95),(771.5,-3.92),(776.7,-3.89),(781.8,-3.84),(787.0,-3.81),(793.8,-3.80),(800.7,-3.78),(807.5,-3.77),(814.4,-3.75),(821.2,-3.74),(828.1,-3.72),(834.9,-3.68),(838.4,-3.62),(842.5,-3.54),(846.9,-3.56),(852.1,-3.57),(857.2,-3.56),(862.3,-3.57),(869.2,-3.57),(876.0,-3.59),(882.9,-3.60),(889.7,-3.63),(896.6,-3.66),(903.4,-3.68),(910.3,-3.70),(915.4,-3.72),(920.6,-3.72),(925.7,-3.71),(930.9,-3.68)]
e_gtt_ism = [(427.2,-4.59),(430.6,-4.66),(434.8,-4.69),(439.2,-4.72),(444.4,-4.71),(449.5,-4.69),(454.6,-4.71),(459.8,-4.69),(464.9,-4.66),(468.3,-4.57),(471.8,-4.47),(476.9,-4.27),(480.3,-4.02),(483.8,-3.95),(487.2,-4.02),(490.6,-4.07),(494.0,-3.83),(496.4,-3.57),(498.5,-3.35),(500.9,-3.13),(503.3,-3.16),(506.0,-3.25),(509.5,-3.35),(512.9,-3.47),(517.0,-3.59),(521.5,-3.74),(526.6,-3.89),(531.7,-4.07),(536.9,-4.22),(541.0,-4.36),(544.4,-4.51),(547.1,-4.65),(551.3,-4.57),(555.7,-4.51),(558.1,-4.39),(560.8,-3.95),(562.5,-3.68),(564.9,-3.62),(567.7,-3.60),(571.1,-3.62),(576.3,-3.63),(581.4,-3.68),(586.5,-3.74),(591.7,-3.81),(596.8,-3.89),(602.0,-3.93),(607.1,-3.98),(612.2,-4.04),(617.4,-4.08),(622.5,-4.12),(627.6,-4.14),(632.8,-4.14),(637.9,-4.12),(644.8,-4.10),(651.6,-4.07),(660.2,-4.05),(670.5,-4.03),(680.8,-4.02),(691.0,-4.03),(699.6,-4.04),(708.2,-4.01),(716.7,-4.00),(723.6,-3.98),(730.4,-3.95),(737.3,-3.91),(744.1,-3.87),(751.0,-3.84),(757.8,-3.81),(764.7,-3.81),(771.5,-3.80),(778.4,-3.80),(783.5,-3.82),(788.7,-3.84),(793.8,-3.87),(799.0,-3.89),(804.1,-3.90),(809.2,-3.90),(814.4,-3.87),(819.5,-3.83),(824.6,-3.78),(829.8,-3.76),(834.9,-3.75),(840.1,-3.76),(845.2,-3.75),(852.1,-3.75),(858.9,-3.76),(865.8,-3.77),(872.6,-3.78),(877.7,-3.77),(882.9,-3.74),(889.7,-3.69),(896.6,-3.67),(903.4,-3.66),(910.3,-3.63),(917.2,-3.61),(924.0,-3.60),(930.9,-3.57)]

# redshift ticks on the top axis (cosmic time in Myr)
z_labels = ["12", "11", "10", "9", "8", "7", "6"]
z_times = [369, 415, 474, 547, 641, 764, 934]

panel_labels = ["(a)", "(b)", "(c)", "(d)", "(e)"]
# axis titles as (text, kind) pieces; kind: n = normal, sub, sup
y_titles = [
    [("log Ṁ", "n"), ("g, out", "sub"), (" (M", "n"), ("⊙", "sub"),
     (" yr", "n"), ("−1", "sup"), (")", "n")],
    [("log <n", "n"), ("H, out", "sub"), ("> (cm", "n"), ("−3", "sup"), (")", "n")],
    [("<V", "n"), ("r, out", "sub"), ("> (km s", "n"), ("−1", "sup"), (")", "n")],
    [("<log T", "n"), ("out", "sub"), ("> (K)", "n")],
    [("<log Z", "n"), ("out", "sub"), (">", "n")],
]

# ---- styling ----
W, H = 1200, 2686
L, R, T, B = 168, 66, 112, 117
FONT = "DejaVu Sans"
SINK, GTT = "#008000", "#bf00bf"
SINK_OUT, GTT_OUT = "#32cd32", "#ffc0cb"
DASH = "13px,6px"
DOT = "2px,3.5px"
PANEL_H = (H - T - B) / 5

# DejaVu Sans advance widths (em), used to lay out sub/superscript pieces
ADV = {" ": 0.318, "(": 0.390, ")": 0.390, "<": 0.838, ">": 0.838, ".": 0.318,
       ",": 0.318, "−": 0.838, "-": 0.361, "0": 0.636, "1": 0.636, "2": 0.636,
       "3": 0.636, "a": 0.613, "c": 0.550, "e": 0.615, "g": 0.635, "i": 0.278,
       "k": 0.579, "l": 0.278, "m": 0.974, "n": 0.634, "o": 0.612, "p": 0.635,
       "r": 0.411, "s": 0.521, "t": 0.392, "u": 0.634, "v": 0.592, "y": 0.592,
       "H": 0.752, "I": 0.295, "K": 0.656, "M": 0.863, "S": 0.635, "T": 0.611,
       "V": 0.684, "Z": 0.685, "Ṁ": 0.863, "⊙": 0.838}
ASC_MID = 0.346  # baseline offset below the middle of the text box (em)


def xp(px):
    return (px - L) / (W - L - R)


def yp(py):
    return (H - B - py) / (H - T - B)


def text_w(s, size):
    return sum(ADV.get(ch, 0.6) for ch in s) * size


def esc(s):
    return s.replace("&", "&amp;").replace("<", "&lt;").replace(">", "&gt;")


fig = make_subplots(rows=5, cols=1, shared_xaxes=True, vertical_spacing=0)


def add_line(row, pairs, color, width, dash=None):
    t, v = zip(*pairs)
    fig.add_trace(go.Scatter(x=list(t), y=list(v), mode="lines",
                             line=dict(color=color, width=width, dash=dash),
                             showlegend=False, hoverinfo="skip"),
                  row=row, col=1)


panels = [
    (a_sink_out, a_gtt_out, a_sink, a_gtt),
    (b_sink_out, b_gtt_out, b_sink, b_gtt),
    (c_sink_out, c_gtt_out, c_sink, c_gtt),
    (d_sink_out, d_gtt_out, d_sink, d_gtt),
    (e_sink_out, e_gtt_out, e_sink, e_gtt),
]
for i, (s_out, g_out, s_in, g_in) in enumerate(panels, start=1):
    add_line(i, s_out, SINK_OUT, 3.2, DASH)
    add_line(i, g_out, GTT_OUT, 3.2, DASH)
    add_line(i, s_in, SINK, 2.8)
    add_line(i, g_in, GTT, 2.8)

add_line(3, c_vesc, "black", 3.5, "4px,5px")
add_line(5, e_sink_ism, SINK, 2.2, DOT)
add_line(5, e_gtt_ism, GTT, 2.2, DOT)

# invisible trace so the top redshift axis gets drawn
fig.add_trace(go.Scatter(x=[None], y=[None], xaxis="x6", yaxis="y",
                         showlegend=False, hoverinfo="skip"))

tick_font = dict(family=FONT, size=26, color="black")
fig.update_xaxes(range=[300, 1000], tickvals=list(range(300, 1001, 100)),
                 showgrid=False, zeroline=False, showline=True,
                 linecolor="black", linewidth=2, mirror="ticks",
                 ticks="inside", ticklen=9, tickwidth=1.5, tickcolor="black",
                 tickfont=tick_font)
fig.update_xaxes(ticks="", mirror=True, row=1, col=1)
fig.update_xaxes(mirror=True, row=5, col=1, showticklabels=True,
                 ticklabelstandoff=6)

fig.update_yaxes(showgrid=False, zeroline=False, showline=True,
                 linecolor="black", linewidth=2, mirror=True,
                 ticks="outside", ticklen=10, tickwidth=1.5, tickcolor="black",
                 tickfont=tick_font)
fig.update_yaxes(range=[-3.4, 0.3], tickvals=[-3, -2.5, -2, -1.5, -1, -0.5, 0],
                 ticktext=["−3.0", "−2.5", "−2.0", "−1.5", "−1.0", "−0.5", "0.0"],
                 row=1, col=1)
fig.update_yaxes(range=[-3.3, 1.5], tickvals=[-3, -2, -1, 0, 1],
                 ticktext=["-3", "-2", "-1", "0", "1"], row=2, col=1)
fig.update_yaxes(range=[0, 130], tickvals=[20, 40, 60, 80, 100, 120], row=3, col=1)
fig.update_yaxes(range=[3.4, 5.6], tickvals=[3.5, 4, 4.5, 5, 5.5],
                 ticktext=["3.5", "4", "4.5", "5", "5.5"], row=4, col=1)
fig.update_yaxes(range=[-5.1, -2.9], tickvals=[-5, -4.5, -4, -3.5, -3],
                 ticktext=["−5.0", "−4.5", "−4.0", "−3.5", "−3.0"], row=5, col=1)

fig.update_layout(
    xaxis6=dict(overlaying="x", side="top", anchor="y", range=[300, 1000],
                tickvals=z_times, ticktext=z_labels, ticks="inside",
                ticklen=9, tickwidth=1.5, tickcolor="black", showgrid=False,
                zeroline=False, showline=False, tickfont=tick_font,
                ticklabelstandoff=6),
    width=W, height=H,
    margin=dict(l=L, r=R, t=T, b=B),
    plot_bgcolor="white", paper_bgcolor="white",
    font=dict(family=FONT, color="black"),
    showlegend=False,
)

ann = []
shapes = []


def note(text, px, py, size, xanchor="left", yanchor="middle", angle=0):
    ann.append(dict(text=text, xref="paper", yref="paper", x=xp(px), y=yp(py),
                    xanchor=xanchor, yanchor=yanchor, textangle=angle,
                    showarrow=False, borderpad=0,
                    font=dict(family=FONT, size=size, color="black")))


def piece_size(kind, size):
    return size if kind == "n" else round(size * 0.7)


def piece_shift(kind, size):
    return {"n": 0.0, "sub": 0.21 * size, "sup": -0.42 * size}[kind]


def rich_h(pieces, x0, yc, size):
    """Horizontal text made of normal/sub/sup pieces, left edge x0, mid yc."""
    base = yc + ASC_MID * size
    x = x0
    for text, kind in pieces:
        sz = piece_size(kind, size)
        body = text.strip(" ")
        x += (len(text) - len(text.lstrip(" "))) * ADV[" "] * sz
        cy = base + piece_shift(kind, size) - ASC_MID * sz
        note(esc(body), x, cy, sz)
        x += text_w(body, sz)
        x += (len(text) - len(text.rstrip(" "))) * ADV[" "] * sz


def rich_v(pieces, xc, ymid, size):
    """Text rotated -90 deg (reading upwards), box centre xc, centred on ymid."""
    total = sum(text_w(t, piece_size(k, size)) for t, k in pieces)
    base = xc + ASC_MID * size
    y = ymid + total / 2
    for text, kind in pieces:
        sz = piece_size(kind, size)
        body = text.strip(" ")
        y -= (len(text) - len(text.lstrip(" "))) * ADV[" "] * sz
        cx = base + piece_shift(kind, size) - ASC_MID * sz
        note(esc(body), cx, y, sz, xanchor="center", yanchor="bottom", angle=-90)
        y -= text_w(body, sz)
        y -= (len(text) - len(text.rstrip(" "))) * ADV[" "] * sz


for i in range(5):
    top = T + i * PANEL_H
    note(panel_labels[i], 190, top + 57, 35)

y_title_x = [41, 91, 64, 79, 58]
for i in range(5):
    rich_v(y_titles[i], y_title_x[i], T + (i + 0.5) * PANEL_H, 41)

note("time (Myr)", 651, 2639, 40, xanchor="center")
note("redshift", 653, 50, 40, xanchor="center")

# legend samples: (x0, x1, y, colour, dash, width, pieces, text_x)
legend_items = [
    (876, 945, 506, SINK, None, 3.5, [("SINK-Fid", "n")], 971),
    (876, 945, 555, GTT, None, 3.5, [("GTT-Fid", "n")], 971),
    (901, 969, 647, "black", None, 3.5, [("0.3 r", "n"), ("vir", "sub")], 997),
    (901, 969, 696, "black", "10px,4px", 3.5, [("1.0 r", "n"), ("vir", "sub")], 997),
    (904, 963, 1137, "black", "4px,4px", 3.5, [("V", "n"), ("escape", "sub")], 999),
    (775, 840, 2520, "black", "2px,2.5px", 2.5,
     [("Z", "n"), ("ISM", "sub"), ("(< 0.2 r", "n"), ("vir", "sub"), (")", "n")], 869),
]
for x0, x1, y, col, dash, w, pieces, tx in legend_items:
    shapes.append(dict(type="line", xref="paper", yref="paper",
                       x0=xp(x0), x1=xp(x1), y0=yp(y), y1=yp(y),
                       line=dict(color=col, width=w, dash=dash)))
    rich_h(pieces, tx, y, 31)

fig.update_layout(annotations=ann, shapes=shapes)

fig.write_html("out.html")
